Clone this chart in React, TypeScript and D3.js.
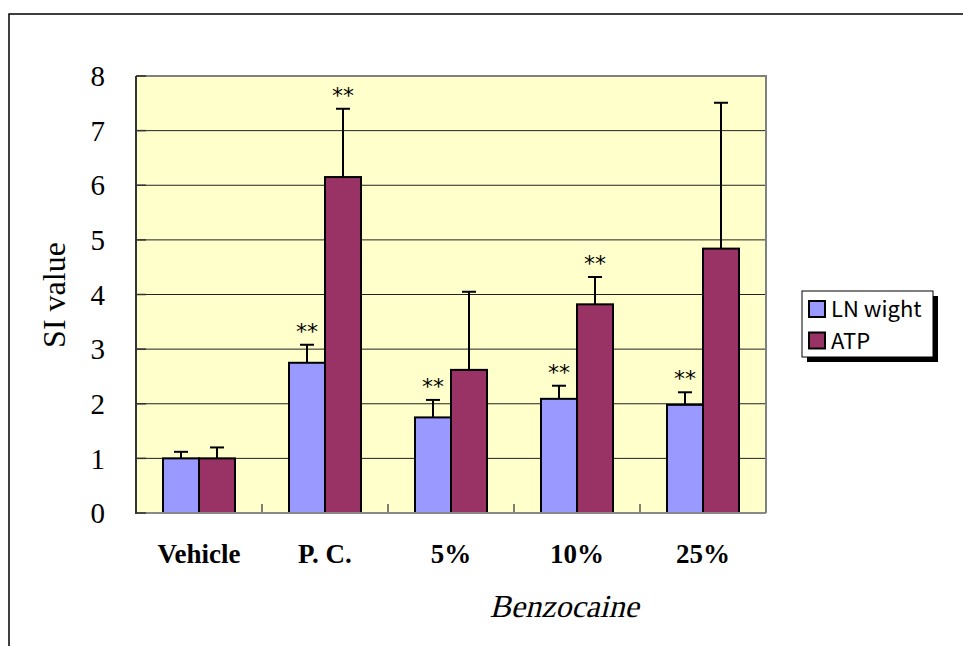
import { useEffect } from 'react';
import * as d3 from 'd3';

const categories = ['Vehicle', 'P. C.', '5%', '10%', '25%'];
const seriesNames = ['LN wight', 'ATP'];
const lnWeight = [1.0, 2.75, 1.75, 2.09, 1.98];
const lnWeightErr = [0.12, 0.33, 0.32, 0.24, 0.23];
const atp = [1.0, 6.15, 2.62, 3.82, 4.84];
const atpErr = [0.2, 1.25, 1.43, 0.5, 2.67];
const lnWeightSig = ['', '**', '**', '**', '**'];
const atpSig = ['', '**', '', '**', ''];
const yTicks = [0, 1, 2, 3, 4, 5, 6, 7, 8];

const W = 963;
const H = 646;
const plot = { left: 136, right: 766, top: 76, bottom: 513 };
const colors = ['#9999FF', '#993366'];

export default function App() {
  useEffect(() => {
    document.body.style.margin = '0';
  }, []);

  const x = d3
    .scaleBand<string>()
    .domain(categories)
    .range([plot.left, plot.right])
    .padding(0);
  const xSub = d3
    .scaleBand<string>()
    .domain(seriesNames)
    .range([0, x.bandwidth()])
    .paddingInner(0)
    .paddingOuter(0.75);
  const y = d3.scaleLinear().domain([0, 8]).range([plot.bottom, plot.top]);

  const series = [
    { name: seriesNames[0], values: lnWeight, err: lnWeightErr, sig: lnWeightSig, color: colors[0] },
    { name: seriesNames[1], values: atp, err: atpErr, sig: atpSig, color: colors[1] },
  ];

  const serif = '"Liberation Serif", "Times New Roman", "DejaVu Serif", serif';
  const sans = '"Noto Sans CJK JP", "DejaVu Sans", sans-serif';

  return (
    <svg width={W} height={H} style={{ display: 'block' }}>
      <rect width={W} height={H} fill="#fff" />
      {/* outer frame */}
      <path d={`M9,${H} V14 H${W}`} fill="none" stroke="#000" strokeWidth={1.5} />

      {/* plot background */}
      <rect
        x={plot.left}
        y={plot.top}
        width={plot.right - plot.left}
        height={plot.bottom - plot.top}
        fill="#FFFFCC"
      />

      {/* gridlines */}
      {yTicks.slice(1, -1).map((t) => (
        <line
          key={`g${t}`}
          x1={plot.left}
          x2={plot.right}
          y1={y(t)}
          y2={y(t)}
          stroke="#222"
          strokeWidth={1}
        />
      ))}

      {/* top + right border */}
      <path
        d={`M${plot.left},${plot.top} H${plot.right} V${plot.bottom}`}
        fill="none"
        stroke="#808080"
        strokeWidth={2}
      />

      {/* x ticks at category boundaries */}
      {categories.slice(1).map((c) => (
        <line
          key={`xt${c}`}
          x1={x(c)!}
          x2={x(c)!}
          y1={plot.bottom}
          y2={plot.bottom - 9}
          stroke="#555"
          strokeWidth={1.5}
        />
      ))}

      {/* bars, error bars, significance marks */}
      {series.map((s) =>
        categories.map((c, i) => {
          const bx = x(c)! + xSub(s.name)!;
          const bw = xSub.bandwidth();
          const cx = bx + bw / 2;
          const top = y(s.values[i]);
          const errTop = y(s.values[i] + s.err[i]);
          return (
            <g key={`${s.name}-${c}`}>
              <line x1={cx} x2={cx} y1={top} y2={errTop} stroke="#000" strokeWidth={2} />
              <line x1={cx - 7} x2={cx + 7} y1={errTop} y2={errTop} stroke="#000" strokeWidth={2} />
              <rect
                x={bx}
                y={top}
                width={bw}
                height={plot.bottom - top}
                fill={s.color}
                stroke="#000"
                strokeWidth={2}
              />
              {s.sig[i] && (
                <text
                  x={cx}
                  y={errTop - 6}
                  textAnchor="middle"
                  fontFamily='"DejaVu Sans", sans-serif'
                  fontSize={22}
                  fill="#000"
                >
                  {s.sig[i]}
                </text>
              )}
            </g>
          );
        })
      )}

      {/* axes */}
      <line x1={plot.left} x2={plot.right} y1={plot.bottom} y2={plot.bottom} stroke="#888" strokeWidth={2} />
      <line x1={plot.left} x2={plot.left} y1={plot.top} y2={plot.bottom + 1} stroke="#333" strokeWidth={2} />
      {yTicks.map((t) => (
        <g key={`yt${t}`}>
          <line x1={plot.left} x2={plot.left + 10} y1={y(t)} y2={y(t)} stroke="#333" strokeWidth={1.5} />
          <text
            x={105}
            y={y(t)}
            dy="0.35em"
            textAnchor="end"
            fontFamily={serif}
            fontSize={29}
            fill="#000"
          >
            {t}
          </text>
        </g>
      ))}

      {/* x labels */}
      {categories.map((c) => (
        <text
          key={`xl${c}`}
          x={x(c)! + x.bandwidth() / 2}
          y={563}
          textAnchor="middle"
          fontFamily={serif}
          fontWeight="bold"
          fontSize={27}
          fill="#000"
        >
          {c}
        </text>
      ))}

      {/* axis titles */}
      <text
        transform="translate(65,295) rotate(-90)"
        textAnchor="middle"
        fontFamily={serif}
        fontSize={32}
        fill="#000"
      >
        SI value
      </text>
      {/* serif regular slanted, so the title keeps its Times-like italic look */}
      <text
        transform="translate(564,617) skewX(-14)"
        textAnchor="middle"
        fontFamily={serif}
        fontSize={32}
        fill="#000"
      >
        Benzocaine
      </text>

      {/* legend */}
      <g>
        <rect x={807} y={296} width={131} height={66} fill="#000" />
        <rect x={802} y={291} width={131} height={66} fill="#fff" stroke="#000" strokeWidth={1} />
        {series.map((s, i) => (
          <g key={`lg${s.name}`} transform={`translate(809,${301 + i * 31.5})`}>
            <rect x={0} y={0} width={16} height={16} fill={s.color} stroke="#000" strokeWidth={2} />
            <text x={22} y={16} fontFamily={sans} fontSize={22} fill="#000">
              {s.name}
            </text>
          </g>
        ))}
      </g>
    </svg>
  );
}
